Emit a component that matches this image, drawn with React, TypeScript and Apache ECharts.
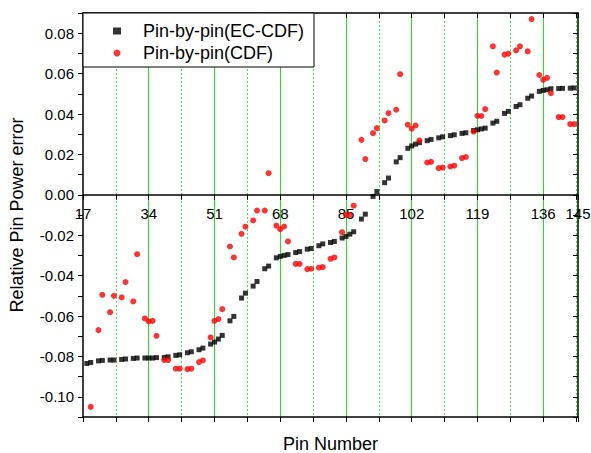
import React, { useEffect, useRef } from 'react';
import * as echarts from 'echarts';

const FONT = '"Liberation Sans", Arial, Helvetica, sans-serif';
const GREEN = '#22e022';
const GREEN_DOT = '#33ee33';

const ecCdfPins = [
  18, 19, 21, 22, 24, 25, 27, 28, 30, 31,
  33, 34, 35, 36, 38, 39, 41, 42, 44, 45,
  47, 48, 50, 51, 52, 53, 55, 56, 58, 59,
  61, 62, 64, 65, 67, 68, 69, 70, 72, 73,
  75, 76, 78, 79, 81, 82, 84, 85, 86, 87,
  89, 90, 92, 93, 95, 96, 98, 99, 101, 102,
  103, 104, 106, 107, 109, 110, 112, 113, 115, 116,
  118, 119, 120, 121, 123, 124, 126, 127, 129, 130,
  132, 133, 135, 136, 137, 138, 140, 141, 143, 144,
];
const ecCdfErrors = [
  -0.0835, -0.083, -0.0822, -0.082, -0.0818, -0.0818, -0.0815, -0.0813, -0.081, -0.0808,
  -0.0808, -0.0808, -0.0808, -0.0806, -0.0805, -0.0802, -0.0795, -0.0792, -0.0782, -0.0777,
  -0.0767, -0.0759, -0.0739, -0.0729, -0.0714, -0.0696, -0.0624, -0.0602, -0.0511, -0.0487,
  -0.0452, -0.0429, -0.0366, -0.0353, -0.0312, -0.0305, -0.03, -0.0296, -0.0286, -0.0281,
  -0.0269, -0.0266, -0.0252, -0.0243, -0.0236, -0.0231, -0.0214, -0.0206, -0.0195, -0.0183,
  -0.012, -0.0096, -0.0008, 0.0016, 0.006, 0.0083, 0.0163, 0.0184, 0.023, 0.0242,
  0.0251, 0.0258, 0.0268, 0.0274, 0.0282, 0.0287, 0.0293, 0.0297, 0.0304, 0.0307,
  0.0318, 0.0322, 0.0326, 0.033, 0.0355, 0.0364, 0.0403, 0.0413, 0.0437, 0.0446,
  0.0478, 0.0489, 0.0512, 0.0517, 0.052, 0.0525, 0.0526, 0.0527, 0.0528, 0.0529,
];

const cdfPins = [
  19, 21, 22, 24, 25, 27, 28, 30, 31,
  33, 34, 35, 36, 38, 39, 41, 42, 44, 45,
  47, 48, 50, 51, 52, 53, 55, 56, 58, 59,
  61, 62, 64, 65, 67, 68, 69, 70, 72, 73,
  75, 76, 78, 79, 81, 82, 84, 85, 86, 87,
  89, 90, 92, 93, 95, 96, 98, 99, 101, 102,
  103, 104, 106, 107, 109, 110, 112, 113, 115, 116,
  118, 119, 120, 121, 123, 124, 126, 127, 129, 130,
  132, 133, 135, 136, 137, 138, 140, 141, 143, 144,
];
const cdfErrors = [
  -0.105, -0.067, -0.0495, -0.0581, -0.05, -0.0508, -0.0432, -0.0528, -0.0294,
  -0.0612, -0.0627, -0.0624, -0.0698, -0.0818, -0.0818, -0.0861, -0.0861, -0.0863, -0.0861,
  -0.0828, -0.082, -0.0706, -0.0624, -0.0615, -0.0566, -0.0256, -0.031, -0.0193, -0.0158,
  -0.0127, -0.0078, -0.0078, 0.0107, -0.0153, -0.017, -0.0157, -0.0231, -0.0342, -0.0342,
  -0.0368, -0.0366, -0.0361, -0.0358, -0.0317, -0.031, -0.0185, -0.0099, -0.0099, -0.0054,
  0.0272, 0.0177, 0.0305, 0.033, 0.0368, 0.0404, 0.0421, 0.0597, 0.0347, 0.0327,
  0.0343, 0.0269, 0.016, 0.0163, 0.0132, 0.0135, 0.014, 0.0144, 0.0182, 0.0187,
  0.0313, 0.0391, 0.039, 0.0424, 0.0735, 0.0605, 0.0694, 0.0699, 0.0715, 0.0735,
  0.071, 0.087, 0.0593, 0.0569, 0.0579, 0.0503, 0.0385, 0.0385, 0.035, 0.035,
];

const xMajorLabels = [17, 34, 51, 68, 85, 102, 119, 136, 145];

const xLabel = (v: number) => {
  for (const t of xMajorLabels) if (Math.abs(v - t) < 1e-6) return String(t);
  return '';
};
const yLabel = (v: number) => {
  const k = Math.round(v * 100);
  if (k % 2 !== 0) return '';
  if (k === 0) return '0.00';
  return (k / 100).toFixed(2);
};

const Y_MIN = -0.11;
const Y_MAX = 0.09;

export default function App() {
  const ref = useRef<HTMLDivElement>(null);
  useEffect(() => {
    const chart = echarts.init(ref.current!, null, { renderer: 'svg' });
    const H = 453;
    const gridTop = 13;
    const gridBottom = 36;
    const plotH = H - gridTop - gridBottom;
    // distance (px) from the bottom frame up to the value 0 line
    const zeroOffset = -(plotH * (0 - Y_MIN)) / (Y_MAX - Y_MIN);
    const xBase = { type: 'value', min: 17, max: 145, interval: 8.5 };
    const yBase = { type: 'value', min: Y_MIN, max: Y_MAX, interval: 0.01 };
    const black = { color: '#000', width: 1.5 };
    const option: any = {
      animation: false,
      backgroundColor: '#fff',
      grid: {
        left: 83, right: 13, top: gridTop, bottom: gridBottom,
        containLabel: false, outerBoundsMode: 'none',
      },
      legend: {
        orient: 'vertical',
        left: 83,
        top: 13,
        itemWidth: 8,
        itemHeight: 7,
        itemGap: 4,
        padding: [9, 10, 5, 30],
        backgroundColor: '#fff',
        borderColor: '#000',
        borderWidth: 1,
        textStyle: { fontSize: 18, fontFamily: FONT, color: '#000', padding: [0, 0, 0, 17] },
        data: [
          { name: 'Pin-by-pin(EC-CDF)', icon: 'rect' },
          { name: 'Pin-by-pin(CDF)', icon: 'circle' },
        ],
      },
      xAxis: [
        {
          ...xBase,
          position: 'bottom',
          offset: zeroOffset,
          axisLine: { show: true, onZero: false, lineStyle: black },
          axisTick: { show: true, inside: false, length: 5, lineStyle: { color: '#000', width: 1 } },
          axisLabel: {
            show: true, formatter: xLabel, fontSize: 15, fontFamily: FONT, color: '#000',
            margin: 11, showMinLabel: true, showMaxLabel: true,
          },
          splitLine: {
            show: true, showMinLine: false, showMaxLine: false,
            lineStyle: { color: GREEN_DOT, width: 1, type: [2, 2] },
          },
        },
        {
          ...xBase,
          position: 'bottom',
          axisLine: { show: true, onZero: false, lineStyle: black },
          axisTick: { show: true, inside: false, length: 5, lineStyle: { color: '#000', width: 1 } },
          axisLabel: { show: false },
          splitLine: { show: false },
          name: 'Pin Number',
          nameLocation: 'middle',
          nameGap: 18,
          nameTextStyle: { fontSize: 18, fontFamily: FONT, color: '#000' },
        },
        {
          ...xBase,
          position: 'top',
          axisLine: { show: true, onZero: false, lineStyle: black },
          axisTick: { show: true, inside: true, length: 5, lineStyle: { color: '#000', width: 1 } },
          axisLabel: { show: false },
          splitLine: { show: false },
        },
        {
          type: 'value', min: 17, max: 145, interval: 17,
          position: 'bottom',
          axisLine: { show: false, onZero: false },
          axisTick: { show: false },
          axisLabel: { show: false },
          splitLine: {
            show: true, showMinLine: false, showMaxLine: false,
            lineStyle: { color: GREEN, width: 1, type: 'solid' },
          },
        },
      ],
      yAxis: [
        {
          ...yBase,
          position: 'left',
          axisLine: { show: true, onZero: false, lineStyle: black },
          axisTick: { show: true, inside: false, length: 5, lineStyle: { color: '#000', width: 1 } },
          axisLabel: { show: true, formatter: yLabel, fontSize: 15, fontFamily: FONT, color: '#000', margin: 9 },
          splitLine: { show: false },
          name: 'Relative Pin Power error',
          nameLocation: 'middle',
          nameGap: 57,
          nameTextStyle: { fontSize: 18, fontFamily: FONT, color: '#000' },
        },
        {
          ...yBase,
          position: 'right',
          axisLine: { show: true, onZero: false, lineStyle: black },
          axisTick: { show: true, inside: true, length: 5, lineStyle: { color: '#000', width: 1 } },
          axisLabel: { show: false },
          splitLine: { show: false },
        },
      ],
      series: [
        {
          type: 'scatter',
          name: 'Pin-by-pin(EC-CDF)',
          xAxisIndex: 0,
          yAxisIndex: 0,
          symbol: 'rect',
          symbolSize: 5,
          itemStyle: { color: '#000' },
          data: ecCdfPins.map((p, i) => [p, ecCdfErrors[i]]),
        },
        {
          type: 'scatter',
          name: 'Pin-by-pin(CDF)',
          xAxisIndex: 0,
          yAxisIndex: 0,
          symbol: 'circle',
          symbolSize: 6,
          itemStyle: { color: '#ff0000' },
          data: cdfPins.map((p, i) => [p, cdfErrors[i]]),
        },
      ],
    };
    chart.setOption(option);
    return () => chart.dispose();
  }, []);
  return (
    <div
      ref={ref}
      style={{ position: 'fixed', left: 0, top: 0, width: 591, height: 453, background: '#fff' }}
    />
  );
}
